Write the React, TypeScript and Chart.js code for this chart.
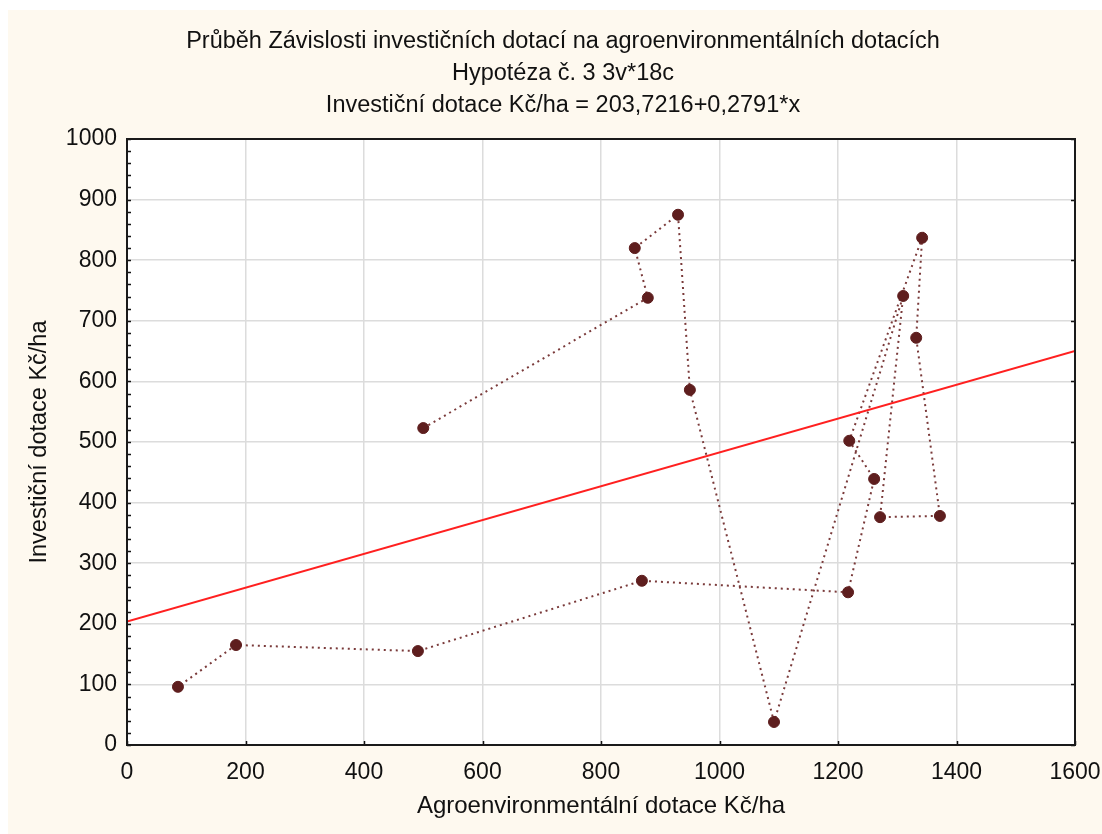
import React, { useEffect, useRef } from "react";
import { Chart, registerables } from "chart.js";

Chart.register(...registerables);

// ---- data ----
const agroX = [500, 879, 857, 930, 950, 1092, 1310, 1271, 1372, 1332, 1342, 1219, 1261, 1217, 869, 491, 184, 86];
const investY = [523, 738, 820, 875, 586, 38, 741, 376, 378, 672, 837, 502, 439, 252, 271, 155, 165, 96];
const regressionX = [0, 1600];
const intercept = 203.7216;
const slope = 0.2791;

const titleLines = [
  "Průběh Závislosti investičních dotací na agroenvironmentálních dotacích",
  "Hypotéza č. 3 3v*18c",
  "Investiční dotace Kč/ha = 203,7216+0,2791*x",
];
const xTitle = "Agroenvironmentální dotace Kč/ha";
const yTitle = "Investiční dotace Kč/ha";
const xRange = [0, 1600];
const yRange = [0, 1000];
const xStep = 200;
const yStep = 100;
const yMinorStep = 20;

const FONT = "'Liberation Sans', Arial, sans-serif";

const bgPlugin = {
  id: "plotBg",
  beforeDraw(chart: any) {
    const { ctx, chartArea: a } = chart;
    ctx.save();
    ctx.fillStyle = "#ffffff";
    ctx.fillRect(a.left, a.top, a.right - a.left, a.bottom - a.top);
    ctx.restore();
  },
};

const framePlugin = {
  id: "frame",
  afterDraw(chart: any) {
    const { ctx, chartArea: a, scales } = chart;
    const x = scales.x;
    const y = scales.y;
    ctx.save();
    ctx.strokeStyle = "#111";
    ctx.lineWidth = 1.5;
    ctx.beginPath();
    for (let v = yRange[0]; v <= yRange[1]; v += yMinorStep) {
      const py = Math.round(y.getPixelForValue(v)) + 0.5;
      ctx.moveTo(a.left, py);
      ctx.lineTo(a.left + 4, py);
    }
    for (let v = yRange[0]; v <= yRange[1]; v += yStep) {
      const py = Math.round(y.getPixelForValue(v)) + 0.5;
      ctx.moveTo(a.right, py);
      ctx.lineTo(a.right - 4, py);
    }
    for (let v = xRange[0]; v <= xRange[1]; v += xStep) {
      const px = Math.round(x.getPixelForValue(v)) + 0.5;
      ctx.moveTo(px, a.bottom);
      ctx.lineTo(px, a.bottom - 4);
    }
    ctx.stroke();
    ctx.lineWidth = 2;
    ctx.strokeStyle = "#1a1a1a";
    ctx.strokeRect(a.left, a.top, a.right - a.left, a.bottom - a.top);
    ctx.restore();
  },
};

export default function App() {
  const ref = useRef<HTMLCanvasElement | null>(null);

  useEffect(() => {
    if (!ref.current) return;
    const points = agroX.map((v, i) => ({ x: v, y: investY[i] }));
    const reg = regressionX.map((v) => ({ x: v, y: intercept + slope * v }));
    const chart = new Chart(ref.current, {
      type: "scatter",
      data: {
        datasets: [
          {
            label: "Regrese",
            data: reg,
            showLine: true,
            borderColor: "#ff2020",
            borderWidth: 2,
            pointRadius: 0,
            fill: false,
          } as any,
          {
            label: "Data",
            data: points,
            showLine: true,
            borderColor: "#7a3a3a",
            borderWidth: 2,
            borderDash: [2, 4],
            pointRadius: 5.5,
            pointBackgroundColor: "#5e1e1e",
            pointBorderColor: "#5e1e1e",
            pointBorderWidth: 1,
            fill: false,
          } as any,
        ],
      },
      options: {
        animation: false,
        responsive: false,
        maintainAspectRatio: false,
        layout: { padding: { top: 0, left: 12, right: -4, bottom: 12 } },
        plugins: {
          legend: { display: false },
          tooltip: { enabled: false },
          title: {
            display: true,
            text: titleLines,
            color: "#111",
            font: { family: FONT, size: 23.5, weight: "normal", lineHeight: 32 / 23.5 },
            padding: { top: 16, bottom: 17 },
          },
        },
        scales: {
          x: {
            type: "linear",
            min: xRange[0],
            max: xRange[1],
            afterFit: (s: any) => {
              s.height = 77;
              s.paddingLeft = 0;
              s.paddingRight = 0;
            },
            border: { display: false },
            grid: { color: "#dcdcdc", lineWidth: 1.5, drawTicks: false },
            ticks: {
              stepSize: xStep,
              padding: 14,
              color: "#111",
              font: { family: FONT, size: 23 },
              maxRotation: 0,
              callback: (v: any) => String(v),
            },
            title: {
              display: true,
              text: xTitle,
              color: "#111",
              padding: { top: 0, bottom: 0 },
              font: { family: FONT, size: 24, lineHeight: 1.3 },
            },
          },
          y: {
            type: "linear",
            min: yRange[0],
            max: yRange[1],
            afterFit: (s: any) => {
              s.width = 107;
            },
            border: { display: false },
            grid: { color: "#dcdcdc", lineWidth: 1.5, drawTicks: false },
            ticks: {
              stepSize: yStep,
              padding: 10,
              color: "#111",
              font: { family: FONT, size: 23 },
              callback: (v: any) => String(v),
            },
            title: {
              display: true,
              text: yTitle,
              color: "#111",
              font: { family: FONT, size: 23.5, lineHeight: 1.3 },
            },
          },
          yRightSpacer: {
            type: "linear",
            position: "right",
            display: true,
            afterFit: (s: any) => {
              s.width = 31;
              s.paddingTop = 0;
              s.paddingBottom = 0;
            },
            border: { display: false },
            grid: { display: false, drawTicks: false },
            ticks: { display: false },
            title: { display: false },
          },
        },
      },
      plugins: [bgPlugin, framePlugin],
    });
    return () => chart.destroy();
  }, []);

  return (
    <div
      style={{
        position: "absolute",
        left: 8,
        top: 10,
        width: 1094,
        height: 824,
        background: "#fef9ef",
      }}
    >
      <canvas ref={ref} width={1094} height={824} style={{ display: "block" }} />
    </div>
  );
}
